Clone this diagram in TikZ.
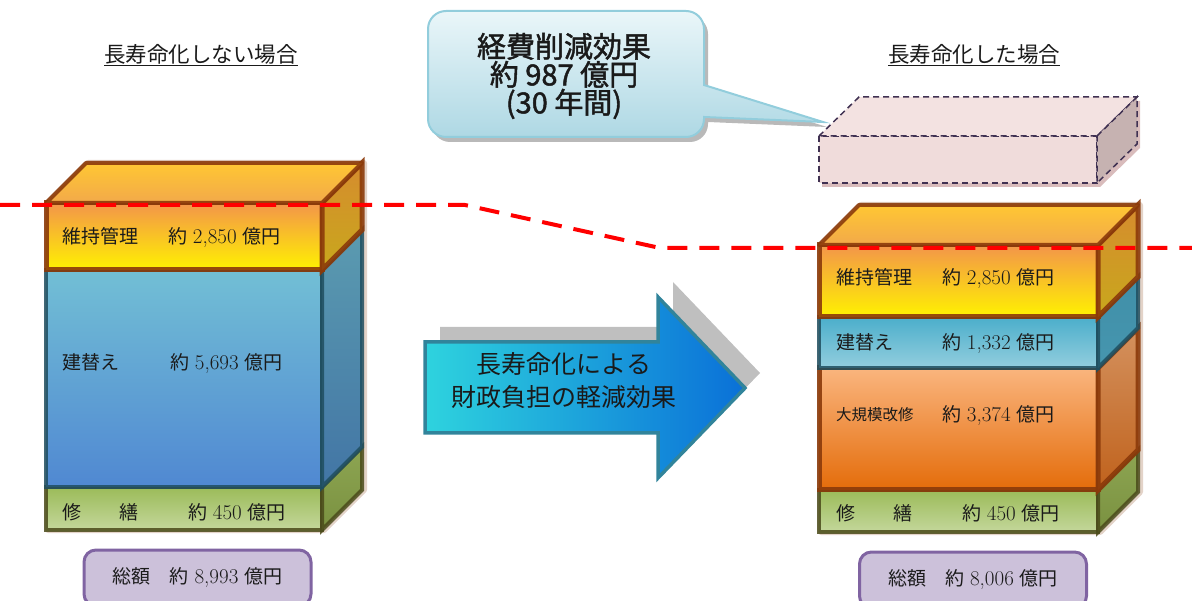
\documentclass[tikz,border=0pt]{standalone}
\usepackage{fontspec}
\newfontfamily\jp{Noto Sans CJK JP}
\newfontfamily\jpb[FakeBold=1.6]{Noto Sans CJK JP}
\newcommand\dig[1]{{\fontsize{21}{22}\selectfont #1}}
\newcommand\amt[1]{{\jp 約} \dig{#1} {\jp 億円}}
\newcommand\blayer[6]{%
  \draw[#5] (#1,#3) rectangle (#2,#4);
  \draw[#6] (#2,#3) -- ++(40,-40) -- ++(0,{#4-#3}) -- (#2,#4) -- cycle;
}
\definecolor{txt}{HTML}{1A1A1A}
\definecolor{brownb}{HTML}{8B3A0A}
\definecolor{tealb}{HTML}{1F4E5F}
\definecolor{oliveb}{HTML}{4A4A1A}
\definecolor{shadowc}{HTML}{E3D3C8}
\definecolor{purpb}{HTML}{8064A2}
\definecolor{purpf}{HTML}{CCC1DA}
\definecolor{dashb}{HTML}{403152}
\definecolor{callb}{HTML}{92CDDC}
\definecolor{callt}{HTML}{EAF6F9}
\definecolor{callbot}{HTML}{AED8E4}
\definecolor{arrb}{HTML}{31849B}
\definecolor{arrl}{HTML}{2ED3DE}
\definecolor{arrr}{HTML}{0A70D8}
\definecolor{maintT}{HTML}{F3954A}
\definecolor{maintB}{HTML}{FFF200}
\definecolor{maintST}{HTML}{D68C2E}
\definecolor{maintSB}{HTML}{C8A81C}
\definecolor{topT}{HTML}{FFC733}
\definecolor{topB}{HTML}{F2A94A}
\definecolor{rebLT}{HTML}{72BFD5}
\definecolor{rebLB}{HTML}{5088D2}
\definecolor{rebLST}{HTML}{5B9BB0}
\definecolor{rebLSB}{HTML}{4275A5}
\definecolor{rebRT}{HTML}{4BAECB}
\definecolor{rebRB}{HTML}{93CEDE}
\definecolor{rebRST}{HTML}{408FA8}
\definecolor{rebRSB}{HTML}{4696AF}
\definecolor{bigT}{HTML}{FAB57E}
\definecolor{bigB}{HTML}{E46C0A}
\definecolor{bigST}{HTML}{D4915E}
\definecolor{bigSB}{HTML}{C0621C}
\definecolor{repT}{HTML}{9BBB59}
\definecolor{repB}{HTML}{C4D79B}
\definecolor{repST}{HTML}{8DA552}
\definecolor{repSB}{HTML}{7A9140}
\definecolor{dshadow}{HTML}{C9A0A0}
\definecolor{dfront}{HTML}{F0DCDB}
\definecolor{dtop}{HTML}{F3E2E1}
\definecolor{dside}{HTML}{C6B2B1}
\begin{document}
\begin{tikzpicture}[x=1pt,y=-1pt,
  lbl/.style={font=\fontsize{19}{22}\selectfont, text=txt, anchor=base west, inner sep=0pt},
  ttl/.style={font=\jp\fontsize{21.5}{24}\selectfont, text=txt, inner sep=0pt},
  totbox/.style={draw=purpb, fill=purpf, line width=3pt, rounded corners=12pt,
    minimum width=227pt, minimum height=56pt, font=\fontsize{19}{22}\selectfont, text=txt},
  maintF/.style={top color=maintT, bottom color=maintB, draw=brownb, draw opacity=.9, line width=5pt},
  maintS/.style={top color=maintST, bottom color=maintSB, draw=brownb, draw opacity=.9, line width=5pt},
  topF/.style={top color=topT, bottom color=topB, draw=brownb, draw opacity=.9, line width=4pt, line join=round},
  rebLF/.style={top color=rebLT, bottom color=rebLB, draw=tealb, draw opacity=.85, line width=4pt},
  rebLS/.style={top color=rebLST, bottom color=rebLSB, draw=tealb, draw opacity=.85, line width=4pt},
  rebRF/.style={top color=rebRT, bottom color=rebRB, draw=tealb, draw opacity=.85, line width=4pt},
  rebRS/.style={top color=rebRST, bottom color=rebRSB, draw=tealb, draw opacity=.85, line width=4pt},
  bigF/.style={top color=bigT, bottom color=bigB, draw=brownb, draw opacity=.9, line width=5pt},
  bigS/.style={top color=bigST, bottom color=bigSB, draw=brownb, draw opacity=.9, line width=5pt},
  repF/.style={top color=repT, bottom color=repB, draw=oliveb, draw opacity=.85, line width=4pt},
  repS/.style={top color=repST, bottom color=repSB, draw=oliveb, draw opacity=.85, line width=4pt},
  dashedge/.style={draw=dashb, line width=1.5pt, dash pattern=on 6pt off 4pt},
  redline/.style={draw=red, line width=4pt, dash pattern=on 20pt off 12pt},
]
\useasboundingbox (0,0) rectangle (1192,601);

% ---------- titles
\node[ttl] (titleL) at (201,55) {\underline{長寿命化しない場合}};
\node[ttl] (titleR) at (974,55) {\underline{長寿命化した場合}};

% ---------- callout
\fill[gray!55, xshift=4pt, yshift=-5pt] (704,85) -- (823,122) -- (704,117) [rounded corners=18pt] -- (704,137) -- (428,137) -- (428,11) -- (704,11) -- (704,60) [sharp corners] -- cycle;
\draw[callb, line width=2pt, top color=callt, bottom color=callbot]
  (704,85) -- (823,122) -- (704,117) [rounded corners=18pt] -- (704,137) -- (428,137) -- (428,11) -- (704,11) -- (704,60) [sharp corners] -- cycle;
\node[font=\jpb\fontsize{29}{28}\selectfont, align=center, text=txt] (callT) at (564,76) {経費削減効果\\約 987 億円\\(30 年間)};

% ---------- dashed removed box
\fill[dshadow, opacity=.7, xshift=3pt, yshift=-4pt]
  (819,136) -- (859,97) -- (1137,97) -- (1137,144) -- (1097,183) -- (819,183) -- cycle;
\draw[dashedge, fill=dfront] (819,136) rectangle (1097,183);
\draw[dashedge, fill=dtop] (819,136) -- (859,97) -- (1137,97) -- (1097,136) -- cycle;
\draw[dashedge, fill=dside] (1097,136) -- (1137,97) -- (1137,144) -- (1097,183) -- cycle;

% ---------- left block
\draw[shadowc, fill=shadowc, line width=6pt, line join=round, xshift=2pt]
  (46,203) -- (86,163) -- (362,163) -- (362,490) -- (322,530) -- (46,530) -- cycle;
\blayer{46}{322}{487}{530}{repF}{repS}
\blayer{46}{322}{270}{487}{rebLF}{rebLS}
\blayer{46}{322}{203}{270}{maintF}{maintS}
\draw[topF] (46,203) -- (86,163) -- (362,163) -- (322,203) -- cycle;

% ---------- right block
\draw[shadowc, fill=shadowc, line width=6pt, line join=round, xshift=2pt]
  (819,245) -- (859,205) -- (1138,205) -- (1138,492) -- (1098,532) -- (819,532) -- cycle;
\blayer{819}{1098}{490}{532}{repF}{repS}
\blayer{819}{1098}{368}{490}{bigF}{bigS}
\blayer{819}{1098}{317}{368}{rebRF}{rebRS}
\blayer{819}{1098}{245}{317}{maintF}{maintS}
\draw[topF] (819,245) -- (859,205) -- (1138,205) -- (1098,245) -- cycle;

% ---------- labels left
\node[lbl] (lMa) at (62,244) {\jp 維持管理};
\node[lbl] (lMb) at (168,244) {\amt{2,850}};
\node[lbl] (lRa) at (62,370) {\jp 建替え};
\node[lbl] (lRb) at (170,370) {\amt{5,693}};
\node[lbl] (lPa) at (62,519) {\jp 修　　繕};
\node[lbl] (lPb) at (188,519) {\amt{450}};

% ---------- labels right
\node[lbl] (rMa) at (836,285) {\jp 維持管理};
\node[lbl] (rMb) at (942,285) {\amt{2,850}};
\node[lbl] (rRa) at (836,350) {\jp 建替え};
\node[lbl] (rRb) at (942,350) {\amt{1,332}};
\node[lbl, font=\fontsize{15.5}{18}\selectfont] (rBa) at (836,421) {\jp 大規模改修};
\node[lbl] (rBb) at (942,422) {\amt{3,374}};
\node[lbl] (rPa) at (836,520) {\jp 修　　繕};
\node[lbl] (rPb) at (962,520) {\amt{450}};

% ---------- totals
\node[totbox] (totL) at (197.5,578) {{\jp 総額　約} \dig{8,993} {\jp 億円}};
\node[totbox] (totR) at (973,580) {{\jp 総額　約} \dig{8,006} {\jp 億円}};

% ---------- big arrow
\fill[gray!50, xshift=15pt, yshift=15pt]
  (425,342) -- (658,342) -- (658,297) -- (745,388) -- (658,478) -- (658,433) -- (425,433) -- cycle;
\draw[arrb, line width=3.5pt, line join=miter, left color=arrl, right color=arrr]
  (425,342) -- (658,342) -- (658,297) -- (745,388) -- (658,478) -- (658,433) -- (425,433) -- cycle;
\node[font=\jp\fontsize{25}{33}\selectfont, align=center, text=txt] (arrT) at (564,381) {長寿命化による\\財政負担の軽減効果};

% ---------- red dashed line
\coordinate (r0) at (0,205);
\coordinate (r1) at (465,205);
\coordinate (r2) at (660,248);
\coordinate (r3) at (1192,248);
\draw[redline] (r0) -- (r1) -- (r2) -- (r3);
\end{tikzpicture}
\end{document}
